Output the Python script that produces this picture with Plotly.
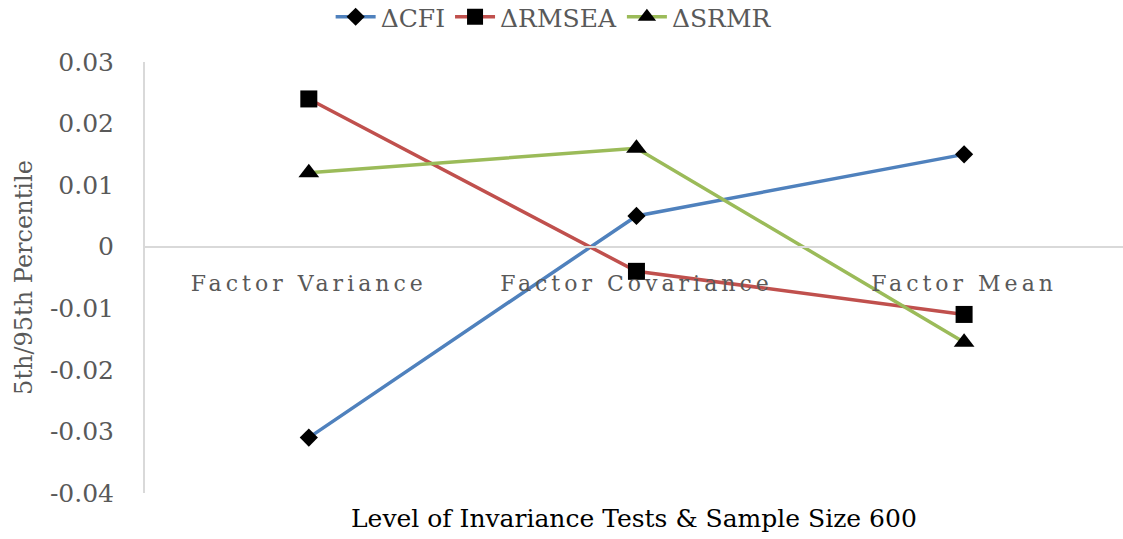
import plotly.graph_objects as go

categories = ["Factor Variance", "Factor Covariance", "Factor Mean"]
cfi = [-0.031, 0.005, 0.015]
rmsea = [0.024, -0.004, -0.011]
srmr = [0.012, 0.016, -0.0155]
series_names = ["ΔCFI", "ΔRMSEA", "ΔSRMR"]
y_tickvals = [0.03, 0.02, 0.01, 0, -0.01, -0.02, -0.03, -0.04]
y_ticktext = ["0.03", "0.02", "0.01", "0", "-0.01", "-0.02", "-0.03", "-0.04"]
x_title = "Level of Invariance Tests & Sample Size 600"
y_title = "5th/95th Percentile"

FONT = "DejaVu Serif"
GRAY = "#595959"

colors = ["#4f81bd", "#c0504d", "#9bbb59"]
symbols = ["diamond", "square", "triangle-up"]
sizes = [14, 17, 18]

fig = go.Figure()
for name, vals, c, s, sz in zip(series_names, [cfi, rmsea, srmr], colors, symbols, sizes):
    fig.add_trace(go.Scatter(
        x=categories, y=vals, name=name, mode="lines+markers",
        line=dict(color=c, width=3.5),
        marker=dict(symbol=s, size=sz, color="black", line=dict(width=0)),
    ))

ticktext_x = ['<span style="letter-spacing:4px">%s</span>' % c for c in categories]

fig.update_layout(
    width=1123, height=539,
    margin=dict(l=145, r=0, t=62, b=46),
    paper_bgcolor="white", plot_bgcolor="white",
    font=dict(family=FONT, color=GRAY),
    showlegend=True,
    legend=dict(
        orientation="h", xref="container", yref="container",
        x=0.493, xanchor="center", y=1 - 17 / 539, yanchor="middle",
        font=dict(size=25, color=GRAY, family=FONT),
        itemwidth=40, tracegroupgap=0,
    ),
    xaxis=dict(
        type="category", range=[-0.5, 2.485],
        anchor="free", position=4 / 7,
        showline=True, linecolor="#d9d9d9", linewidth=2,
        showgrid=False, zeroline=False, ticks="",
        tickvals=categories, ticktext=ticktext_x,
        tickfont=dict(size=22, color=GRAY, family=FONT),
        ticklabelstandoff=17,
    ),
    yaxis=dict(
        range=[-0.04, 0.03],
        showline=True, linecolor="#d9d9d9", linewidth=2,
        showgrid=False, zeroline=False, ticks="",
        tickvals=y_tickvals, ticktext=y_ticktext,
        tickfont=dict(size=25, color=GRAY, family=FONT),
        ticklabelstandoff=24,
        title=dict(text=y_title, font=dict(size=24, color=GRAY, family=FONT), standoff=10),
    ),
    annotations=[dict(
        text=x_title, xref="paper", yref="paper", x=0.5, y=-0.06,
        xanchor="center", yanchor="middle", showarrow=False,
        font=dict(size=25, color="black", family=FONT),
    )],
)

fig.write_html("out.html")
